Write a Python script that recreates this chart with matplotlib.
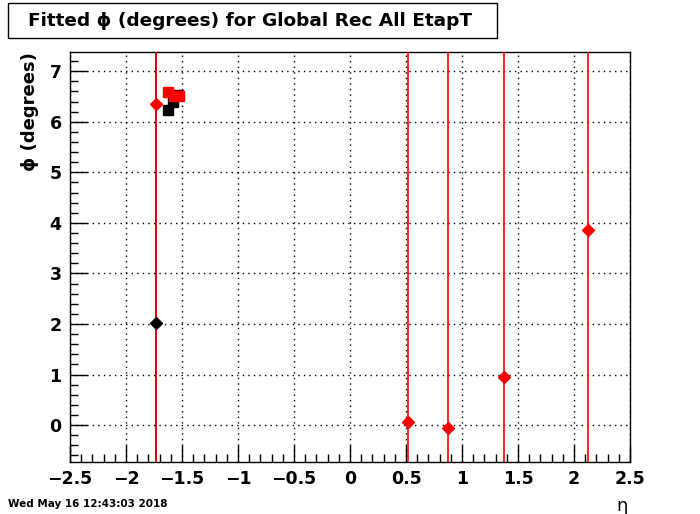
import numpy as np
import matplotlib.pyplot as plt
from matplotlib.patches import Rectangle
from matplotlib.ticker import MultipleLocator

# fitted phi values
black_eta = [-1.732, -1.625, -1.580, -1.536]
black_phi = [2.02, 6.23, 6.40, 6.52]
black_err = [50.0, 0.05, 0.05, 0.05]

red_eta = [-1.732, -1.625, -1.570, -1.527, 0.518, 0.875, 1.375, 2.125]
red_phi = [6.35, 6.58, 6.50, 6.50, 0.06, -0.06, 0.95, 3.86]
red_err = [50.0, 0.08, 0.03, 0.03, 50.0, 50.0, 50.0, 50.0]

W, H = 700, 514
fig = plt.figure(figsize=(W / 100, H / 100), dpi=100)
ax = fig.add_axes([70 / W, 1 - 462 / H, 560 / W, 410 / H])


def draw(eta, phi, err, color):
    eta, phi, err = map(np.asarray, (eta, phi, err))
    big = err > 1
    for mask, mk, ms in ((big, 'D', 6.0), (~big, 's', 6.5)):
        ax.errorbar(eta[mask], phi[mask], yerr=err[mask], fmt=mk, color=color,
                    ms=ms, mec=color, ecolor=color, elinewidth=1.2,
                    capsize=0, zorder=3)


draw(black_eta, black_phi, black_err, 'black')
draw(red_eta, red_phi, red_err, 'red')

ax.set_xlim(-2.5, 2.5)
ax.set_ylim(-0.73, 7.38)
ax.xaxis.set_minor_locator(MultipleLocator(0.1))
ax.yaxis.set_major_locator(MultipleLocator(1))
ax.yaxis.set_minor_locator(MultipleLocator(0.2))
ax.set_xticks(np.arange(-2.5, 2.51, 0.5))
ax.set_xticklabels(['\u22122.5', '\u22122', '\u22121.5', '\u22121', '\u22120.5',
                    '0', '0.5', '1', '1.5', '2', '2.5'])
ax.tick_params(which='both', direction='in', top=False, right=False,
               labelsize=12.5, width=1)
ax.tick_params(which='major', length=12, pad=6)
ax.tick_params(which='minor', length=6)
for lab in ax.get_xticklabels() + ax.get_yticklabels():
    lab.set_fontweight('bold')
ax.grid(True, which='major', color='black', linestyle=(0, (1, 3)), linewidth=1)
for s in ax.spines.values():
    s.set_linewidth(1)

fig.text(30 / W, 1 - 52 / H, '\u03d5 (degrees)', rotation=90, ha='center',
         va='top', fontsize=13, fontweight='bold')
fig.text(628 / W, 1 - 506 / H, '\u03b7', ha='right', va='center', fontsize=13)

fig.patches.append(Rectangle((8 / W, 1 - 38 / H), 489 / W, 35 / H,
                             transform=fig.transFigure, fill=False,
                             edgecolor='black', linewidth=1))
fig.text(250 / W, 1 - 21 / H, 'Fitted \u03d5 (degrees) for Global Rec All EtapT',
         ha='center', va='center', fontsize=13.3, fontweight='bold')
fig.text(8 / W, 1 - 504 / H, 'Wed May 16 12:43:03 2018', ha='left',
         va='center', fontsize=7.5, fontweight='bold')

fig.savefig('out.png', dpi=100)
